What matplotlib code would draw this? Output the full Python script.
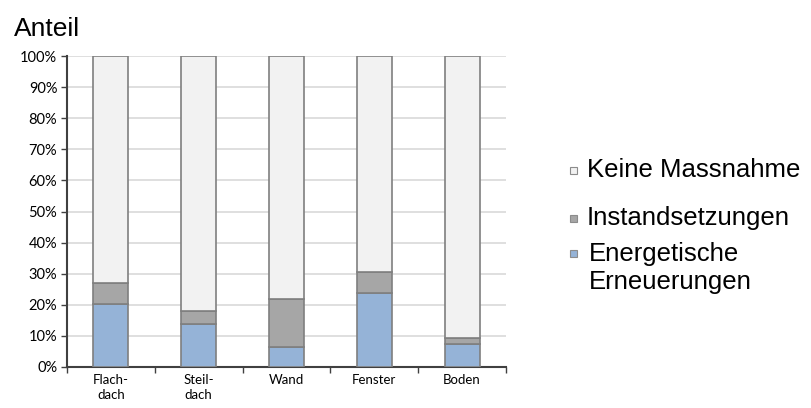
import numpy as np
import matplotlib.pyplot as plt
from matplotlib.patches import Rectangle

# data (shares in %)
categories = ['Flach-\ndach', 'Steil-\ndach', 'Wand', 'Fenster', 'Boden']
energetisch = [20.3, 13.7, 6.4, 23.7, 7.3]
instand = [6.7, 4.2, 15.4, 6.7, 2.0]
keine = [100 - e - i for e, i in zip(energetisch, instand)]
series_labels = ['Keine Massnahme', 'Instandsetzungen', 'Energetische\nErneuerungen']
colors = ['#F2F2F2', '#A6A6A6', '#95B3D7']

fig = plt.figure(figsize=(8.12, 4.08), dpi=100)
ax = fig.add_axes([67 / 812, 1 - 367 / 408, 439 / 812, 311 / 408])

x = np.arange(len(categories))
bw = 0.4
edge = '#7F7F7F'
ax.bar(x, energetisch, bw, color=colors[2], edgecolor=edge, linewidth=1.2, zorder=3)
ax.bar(x, instand, bw, bottom=energetisch, color=colors[1], edgecolor=edge, linewidth=1.2, zorder=3)
bottom2 = [e + i for e, i in zip(energetisch, instand)]
ax.bar(x, keine, bw, bottom=bottom2, color=colors[0], edgecolor=edge, linewidth=1.2, zorder=3)

ax.set_xlim(-0.5, len(categories) - 0.5)
ax.set_ylim(0, 100)
ax.set_yticks(np.arange(0, 101, 10))
ax.set_yticklabels([f'{v}%' for v in range(0, 101, 10)], fontsize=10.5, family='Lato')
ax.yaxis.grid(True, color='#D9D9D9', linewidth=1.2, zorder=0)
ax.tick_params(axis='y', length=4, width=1, color='#404040', pad=3)

ax.set_xticks(x)
ax.set_xticklabels(categories, fontsize=9.5, family='Lato', linespacing=1.35)
ax.set_xticks(np.arange(-0.5, len(categories)), minor=True)
ax.tick_params(axis='x', which='major', length=0, pad=5)
ax.tick_params(axis='x', which='minor', length=4, width=1, color='#404040')

for s in ['top', 'right']:
    ax.spines[s].set_visible(False)
for s in ['left', 'bottom']:
    ax.spines[s].set_color('#404040')
    ax.spines[s].set_linewidth(1.5)

fig.text(14 / 812, 1 - 36 / 408, 'Anteil', fontsize=19, family='Liberation Sans', va='baseline')

# legend, drawn by hand
leg_y = [170, 218, 253]
for lab, col, yy in zip(series_labels, colors, leg_y):
    fig.patches.append(Rectangle((570 / 812, 1 - (yy + 4) / 408), 7 / 812, 7 / 408,
                                 facecolor=col, edgecolor='#8C8C8C', linewidth=0.8,
                                 transform=fig.transFigure, figure=fig))
    if '\n' in lab:
        fig.text(589 / 812, 1 - (yy - 11) / 408, lab, fontsize=18.5, family='Liberation Sans',
                 va='top', linespacing=1.2)
    else:
        fig.text(587 / 812, 1 - yy / 408, lab, fontsize=18.5, family='Liberation Sans', va='center')

fig.savefig('out.png', dpi=100)
